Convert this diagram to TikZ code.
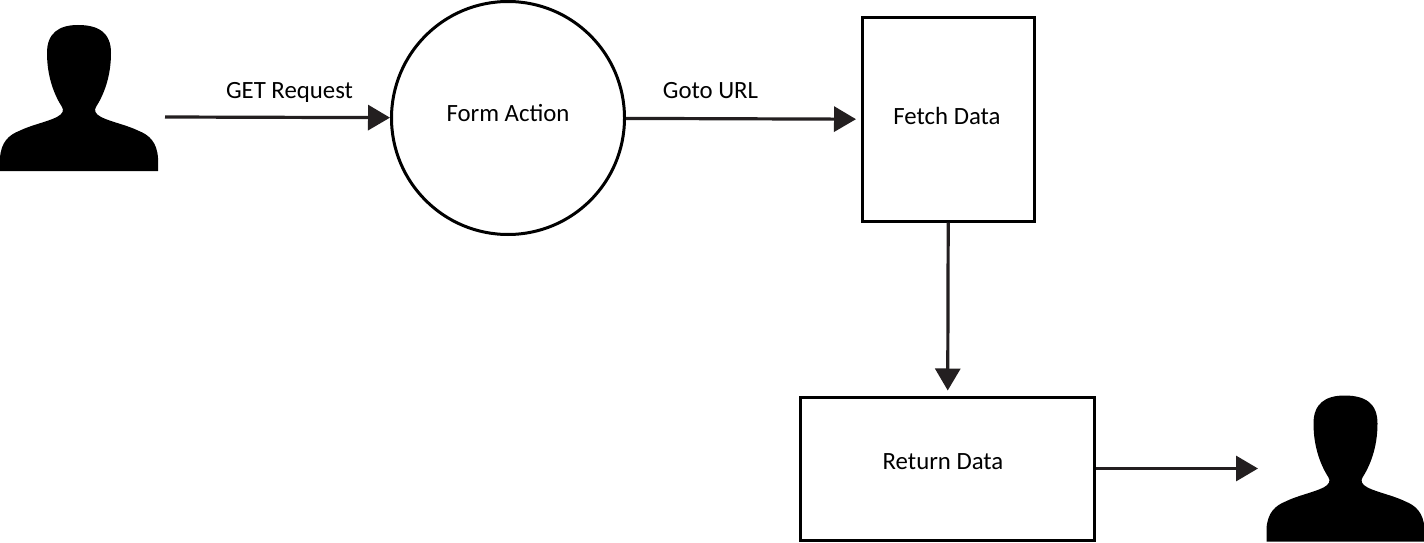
\documentclass[tikz,border=0pt]{standalone}
\usepackage{fontspec}
\setmainfont{Carlito}
\usetikzlibrary{arrows.meta,positioning}
\definecolor{inkline}{HTML}{231F20}
\tikzset{
  every picture/.style = {
    x = 1pt,
    y = -1pt,
    line width = 3pt,
    >={Triangle[length=22pt,width=25pt]},
    font = \fontsize{24.8}{28}\selectfont
  }
  ,
  flow/.style = {
    ->,
    line width = 3.2pt,
    draw = inkline
  }
  , % round process
  process-round/.style = {
    circle,
    draw,
    minimum size = 233pt,
    inner sep = 0pt
  }
  , % square process
  process-box/.style = {
    rectangle,
    draw,
    inner sep = 0pt
  }
  , % labels of edges
  label-edge/.style = {
    inner sep = 0pt,
    text depth = 5pt
  }
  , % outline of a user
  user-box/.style = {
    minimum width = 158pt,
    minimum height = 146pt,
    inner sep = 0pt
  }
  ,
  silhouette/.pic = {
    \fill[black] (-79,73) -- (-79,60)
      .. controls (-78,44) and (-70,37) .. (-60,33)
      .. controls (-48,27) and (-32,24) .. (-22,19)
      .. controls (-16,16) and (-15,12) .. (-17,9)
      .. controls (-24,-2) and (-32,-20) .. (-32,-45)
      .. controls (-32,-65) and (-20,-73) .. (-1,-73)
      .. controls (20,-73) and (32,-65) .. (32,-45)
      .. controls (32,-20) and (24,-2) .. (17,9)
      .. controls (15,12) and (16,16) .. (22,19)
      .. controls (32,24) and (48,27) .. (60,33)
      .. controls (70,37) and (78,44) .. (79,60)
      -- (79,73) -- cycle;
  }
}
\begin{document}
\begin{tikzpicture}
    \useasboundingbox (0,0) rectangle (1424,543);
    \node [user-box] (u1) at (79,98) {};
    \pic at (u1) {silhouette};
    \coordinate (u1out) at (165,117);
    \node [process-round] (form) at (508,118) {\raisebox{10.5pt}{Form Action}};
    \node [process-box, minimum width = 172pt, minimum height = 203pt,
      right = 235pt of form, yshift = -1.5pt] (fetch) {\hspace{-3pt}\raisebox{7pt}{Fetch Data}};
    \node [process-box, minimum width = 294pt, minimum height = 143pt,
      below = 173pt of fetch, xshift = -1pt] (return) {\hspace{-9pt}\raisebox{13pt}{Return Data}};
    \node [user-box, right = 169pt of return] (u2) {};
    \pic at (u2) {silhouette};

    \path (u1out) edge[flow] node [label-edge, above = 12pt, xshift = 12pt] {GET Request} (form)
        (form) edge[flow, shorten > = 5pt] node [label-edge, above = 14pt, xshift = -33pt] {Goto URL} (fetch)
        (fetch) edge[flow, shorten > = 5pt] (return)
        (return) edge[flow, shorten > = 7pt] (u2);
\end{tikzpicture}
\end{document}
